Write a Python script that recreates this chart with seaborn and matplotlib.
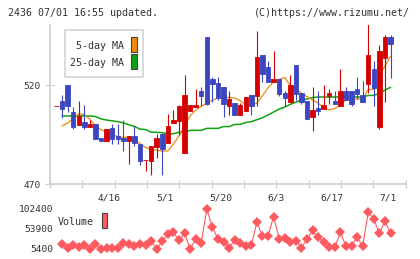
import numpy as np
import pandas as pd
import matplotlib
matplotlib.use('Agg')
import matplotlib.pyplot as plt
from matplotlib.patches import Rectangle
from matplotlib.transforms import ScaledTranslation
import seaborn as sns

# ------------------------------------------------------------
# 日足データ
# ------------------------------------------------------------
opens = [509.5, 512.1, 520.2, 506.5, 500.1, 501.4, 499.1, 500.6, 493.3, 492.0,
         498.4, 494.3, 493.5, 492.0, 494.3, 490.3, 482.0, 481.8, 488.9, 495.3,
         491.0, 501.1, 502.1, 485.9, 507.0, 509.2, 517.1, 544.5, 523.2, 521.2,
         519.2, 509.7, 511.0, 505.0, 507.0, 515.1, 514.8, 535.4, 529.3, 521.9,
         523.2, 516.1, 511.7, 530.3, 516.1, 512.1, 504.0, 508.5, 508.0, 514.8,
         512.1, 509.7, 517.1, 517.1, 518.1, 515.1, 520.8, 528.3, 499.1, 534.0, 544.5]
closes = [509.5, 508.0, 509.7, 499.1, 504.5, 499.1, 500.4, 493.0, 492.0, 497.7,
          493.0, 493.0, 492.0, 494.3, 491.0, 481.8, 482.2, 489.3, 493.3, 487.9,
          499.4, 502.4, 509.5, 515.1, 510.0, 510.0, 514.8, 510.5, 520.7, 513.8,
          510.7, 513.1, 505.0, 510.0, 514.1, 509.7, 534.4, 525.7, 521.9, 523.2,
          515.8, 513.8, 520.2, 515.8, 511.7, 502.9, 507.5, 507.2, 510.0, 516.1,
          510.7, 517.1, 512.7, 510.7, 515.8, 511.7, 535.4, 518.8, 537.4, 544.5, 541.0]
highs = [509.5, 515.1, 520.2, 509.2, 512.1, 510.0, 502.4, 500.6, 493.5, 497.7,
         500.6, 500.4, 502.3, 494.3, 499.4, 490.3, 482.2, 489.3, 495.3, 495.3,
         505.5, 507.5, 510.0, 525.2, 510.0, 518.1, 519.2, 544.5, 524.1, 524.1,
         519.2, 517.1, 511.0, 511.0, 514.1, 515.1, 547.5, 535.4, 532.3, 537.4,
         523.2, 517.1, 525.2, 530.3, 516.1, 512.1, 519.2, 517.1, 520.2, 518.1,
         517.1, 528.3, 519.2, 517.1, 524.2, 522.2, 551.0, 532.3, 540.4, 545.5, 545.5]
lows = [509.5, 503.3, 506.3, 497.9, 500.1, 497.9, 499.1, 493.0, 492.0, 492.0,
        490.1, 490.3, 486.7, 480.0, 489.4, 479.6, 476.6, 474.6, 483.0, 474.6,
        491.0, 501.1, 494.8, 485.9, 507.0, 509.2, 509.5, 510.0, 511.7, 512.6,
        504.0, 505.0, 505.0, 505.0, 507.0, 505.0, 509.7, 521.9, 521.9, 521.9,
        514.8, 509.7, 511.7, 512.6, 510.7, 502.9, 497.0, 505.1, 508.0, 510.7,
        510.7, 509.7, 512.7, 509.7, 513.1, 511.7, 516.0, 509.7, 498.0, 511.7, 523.9]

# 移動平均 (2本目のローソク足から)
ma5 = [499.4, 500.9, 503.3, 505.6, 505.2, 502.8, 499.5, 497.5, 496.4, 495.2,
       494.0, 493.6, 493.8, 492.5, 490.5, 488.5, 487.4, 487.2, 486.6, 486.8,
       490.2, 494.3, 499.4, 504.6, 507.5, 509.5, 510.9, 512.5, 513.6, 513.9,
       513.9, 513.6, 512.2, 510.2, 510.0, 511.0, 514.8, 518.8, 521.8, 523.0,
       524.0, 519.8, 518.5, 516.0, 514.3, 512.6, 510.9, 508.7, 507.5, 508.3,
       510.0, 512.6, 512.6, 513.1, 513.1, 518.0, 518.0, 525.0, 529.8, 534.8]
ma25 = [504.5, 504.5, 504.5, 504.5, 504.5, 504.5, 504.2, 503.0, 502.4, 502.0,
        501.6, 501.0, 500.0, 499.2, 497.8, 497.6, 496.3, 496.2, 496.0, 495.5,
        495.5, 496.2, 496.2, 497.2, 497.2, 497.2, 498.2, 498.2, 498.2, 499.1,
        499.1, 500.2, 500.2, 501.2, 501.6, 502.6, 503.6, 505.0, 506.5, 508.0,
        509.0, 510.4, 511.5, 512.5, 513.1, 513.8, 514.1, 514.1, 514.1, 514.1,
        514.1, 514.3, 514.3, 514.1, 514.1, 514.9, 514.9, 516.0, 517.6, 519.0]

# 出来高
volume = [17525, 7825, 14290, 9440, 15100, 6200, 17525, 4600, 7825, 8630,
          8630, 20760, 17525, 12675, 17525, 15100, 24000, 6200, 24000, 41775,
          45820, 26420, 44200, 4600, 29650, 20760, 102400, 57950, 30460, 22375,
          8630, 26420, 20760, 12675, 14290, 70070, 36925, 37730, 83810, 30460,
          31270, 21570, 25600, 8630, 28840, 50670, 33690, 22375, 9440, 9440,
          45820, 11870, 13480, 33690, 11870, 94320, 78150, 43400, 72500, 43400]

date_idx = [10, 20, 30, 40, 50, 60]
date_labels = ['4/16', '5/1', '5/20', '6/3', '6/17', '7/1']
price_ticks = [470, 520]
vol_ticks = [5400, 53900, 102400]

RED = '#d40000'
BLUE = '#3c46c0'
ORANGE = '#f08a10'
GREEN = '#12a012'
VOLC = '#ff5a60'
GRAY = '#d0d0d0'
TXT = '#333333'

sns.set_theme(style='white')
plt.rcParams['font.family'] = ['DejaVu Sans Mono']

W, H = 420, 259
fig = plt.figure(figsize=(W / 100, H / 100), dpi=100)


def fx(px):
    return px / W


def fy(py):
    return 1 - py / H


# ============================================================
# 株価パネル
# ============================================================
ax = fig.add_axes([fx(50), fy(184), fx(405.7) - fx(50), fy(25) - fy(184)])

df = pd.DataFrame({'open': opens, 'high': highs, 'low': lows, 'close': closes})
df['idx'] = np.arange(len(df))
body_lo = df[['open', 'close']].min(axis=1)
body_hi = df[['open', 'close']].max(axis=1)
cols = np.where(df['close'] >= df['open'], RED, BLUE)

ma_idx = np.arange(1, len(df))
sns.lineplot(x=ma_idx, y=ma25, ax=ax, color=GREEN, lw=1.1, zorder=2, legend=False)
sns.lineplot(x=ma_idx, y=ma5, ax=ax, color=ORANGE, lw=0.9, zorder=2, legend=False)

ax.vlines(df['idx'], df['low'], df['high'], colors=cols, lw=0.8, zorder=3)
ax.bar(df['idx'], body_hi - body_lo, bottom=body_lo, width=0.8, color=cols,
       edgecolor=cols, linewidth=0.6, zorder=4)

x0, x1 = -1.17, 62.73
ax.set_xlim(x0, x1)
ax.set_ylim(470, 550.6)
ax.set_yticks(price_ticks)
ax.set_xticks(date_idx)
ax.set_xticklabels(date_labels)
ax.set_xticks(np.linspace(x0, x1, 12), minor=True)
ax.tick_params(axis='y', direction='inout', length=6.5, width=0.9, color=GRAY,
               labelsize=6.8, labelcolor=TXT, pad=3.5, left=True)
ax.tick_params(axis='x', which='major', length=0, labelsize=6.8, labelcolor=TXT, pad=7)
ax.tick_params(axis='x', which='minor', direction='inout', length=6, width=0.9,
               color=GRAY, bottom=True)
for lbl in ax.get_xticklabels():
    lbl.set_transform(lbl.get_transform() + ScaledTranslation(-2.7 / 100, 0, fig.dpi_scale_trans))
for s in ['top', 'right']:
    ax.spines[s].set_visible(False)
for s in ['left', 'bottom']:
    ax.spines[s].set_color(GRAY)
    ax.spines[s].set_linewidth(1.2)
ax.set_facecolor('white')

# ============================================================
# 出来高パネル
# ============================================================
axv = fig.add_axes([fx(50), fy(255), fx(405.7) - fx(50), fy(200) - fy(255)])
sns.lineplot(x=ma_idx, y=volume, ax=axv, color=VOLC, lw=0.8, marker='D',
             markersize=4.8, markeredgewidth=0, legend=False)
axv.set_xlim(x0, x1)
axv.set_ylim(-9150, 124225)
axv.set_yticks(vol_ticks)
axv.set_yticklabels([str(v) for v in vol_ticks])
axv.set_xticks([])
axv.tick_params(axis='y', length=0, labelsize=6.8, labelcolor=TXT, pad=-2.4)
for s in axv.spines.values():
    s.set_visible(False)
axv.set_facecolor('none')

# ============================================================
# 凡例・見出し
# ============================================================
fig.add_artist(Rectangle((fx(65), fy(77.3)), fx(143.3) - fx(65), fy(30) - fy(77.3),
                         transform=fig.transFigure, facecolor='white', edgecolor=GRAY, lw=1.1))
fig.text(fx(124), fy(46), '5-day MA', ha='right', va='center', fontsize=7.2, color=TXT)
fig.text(fx(124), fy(62.7), '25-day MA', ha='right', va='center', fontsize=7.2, color=TXT)
fig.add_artist(Rectangle((fx(131), fy(52)), fx(137) - fx(131), fy(37) - fy(52),
                         transform=fig.transFigure, facecolor=ORANGE, edgecolor='#444444', lw=0.8))
fig.add_artist(Rectangle((fx(131), fy(69)), fx(137) - fx(131), fy(54) - fy(69),
                         transform=fig.transFigure, facecolor=GREEN, edgecolor='#444444', lw=0.8))

fig.text(fx(58), fy(222), 'Volume', ha='left', va='center', fontsize=7.2, color=TXT)
fig.add_artist(Rectangle((fx(101.5), fy(228)), fx(107) - fx(101.5), fy(213) - fy(228),
                         transform=fig.transFigure, facecolor=VOLC, edgecolor='#444444', lw=0.8))

fig.text(fx(8), fy(13), '2436 07/01 16:55 updated.', ha='left', va='center',
         fontsize=7.2, color=TXT)
fig.text(fx(410), fy(13), '(C)https://www.rizumu.net/', ha='right', va='center',
         fontsize=7.2, color=TXT)

fig.savefig('out.png', dpi=100, facecolor='white')
